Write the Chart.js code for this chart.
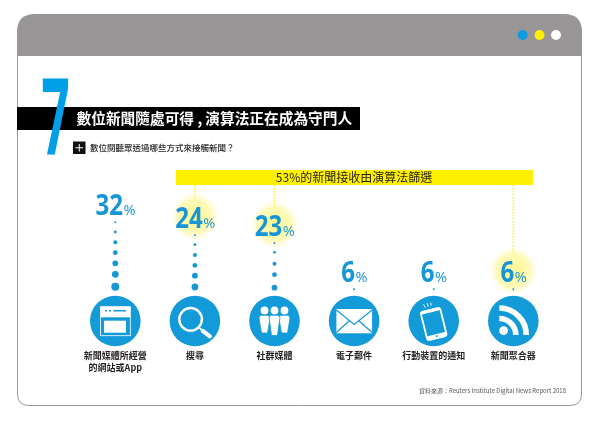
<!DOCTYPE html>
<html>
<head>
<meta charset="utf-8">
<style>
  html, body { margin: 0; padding: 0; background: #fff; }
  canvas { display: block; }
</style>
</head>
<body>
<canvas id="newsChart" width="600" height="423"></canvas>
<script src="https://cdn.jsdelivr.net/npm/chart.js@4"></script>
<script>
var categories = [
    ['新聞媒體所經營', '的網站或App'],
    '搜尋',
    '社群媒體',
    '電子郵件',
    '行動裝置的通知',
    '新聞聚合器'
];
var shareValues = [32, 24, 23, 6, 6, 6];
var algorithmFiltered = [false, true, true, false, false, true];

// height of each dot above the icon, top dot first
var dotsWebsite = [98.7, 89, 78.7, 68.3, 57.7, 46.7, 34.3];
var dotsSearch = [86, 76.3, 66, 55.7, 45.3, 34];
var dotsSocial = [78, 68.7, 57.3, 46.3, 33.3];
var dotsEmail = [31.7];
var dotsMobile = [31.7];
var dotsAggregator = [31.7];
var dotStacks = [dotsWebsite, dotsSearch, dotsSocial, dotsEmail, dotsMobile, dotsAggregator];

var titleLeft = '數位新聞隨處可得';
var titleComma = ',';
var titleRight = '演算法正在成為守門人';
var questionText = '數位閱聽眾透過哪些方式來接觸新聞？';
var bandText = '53%的新聞接收由演算法篩選';
var sourceText = '資料來源：Reuters Institute Digital News Report 2018';

var BLUE = '#129ad9';
var YELLOW = '#fff000';
var CJK = '"Noto Sans CJK TC", sans-serif';
var dotRadius = [1, 1.4, 2, 2.4, 2.9, 3.4, 4];

function roundedTop(ctx, x, y, w, h, r) {
    ctx.beginPath();
    ctx.moveTo(x, y + h);
    ctx.lineTo(x, y + r);
    ctx.quadraticCurveTo(x, y, x + r, y);
    ctx.lineTo(x + w - r, y);
    ctx.quadraticCurveTo(x + w, y, x + w, y + r);
    ctx.lineTo(x + w, y + h);
    ctx.closePath();
}

function valueAnchor(chart, i) {
    var x = chart.scales.x.getPixelForValue(i);
    var top = chart.scales.y.getPixelForValue(dotStacks[i][0]);
    return { x: x, base: top - 7.4, glow: top - 18.4 };
}

// window frame, headline, yellow band and glows sit behind the marks
var pageArt = {
    id: 'pageArt',
    beforeDatasetsDraw: function(chart) {
        var ctx = chart.ctx;
        ctx.save();

        // frame
        ctx.strokeStyle = '#9b9b9b';
        ctx.lineWidth = 1;
        ctx.beginPath();
        ctx.moveTo(17.5, 56);
        ctx.lineTo(17.5, 394);
        ctx.quadraticCurveTo(17.5, 405.5, 29, 405.5);
        ctx.lineTo(570, 405.5);
        ctx.quadraticCurveTo(581.5, 405.5, 581.5, 394);
        ctx.lineTo(581.5, 56);
        ctx.stroke();
        roundedTop(ctx, 17, 14, 565, 42, 18);
        ctx.fillStyle = '#989697';
        ctx.fill();
        [[522.7, '#0f9be0'], [539.5, YELLOW], [556, '#ffffff']].forEach(function(d) {
            ctx.beginPath();
            ctx.arc(d[0], 35, 5, 0, Math.PI * 2);
            ctx.fillStyle = d[1];
            ctx.fill();
        });

        // headline
        ctx.fillStyle = '#000';
        ctx.fillRect(17, 107, 343, 23);
        ctx.fillStyle = '#fff';
        ctx.font = 'bold 14.7px ' + CJK;
        ctx.textBaseline = 'middle';
        ctx.textAlign = 'left';
        ctx.fillText(titleLeft, 76.5, 118.5);
        ctx.fillText(titleComma, 197.5, 118.5);
        ctx.fillText(titleRight, 205.3, 118.5);

        // big 7
        ctx.save();
        ctx.translate(43.5, 154);
        ctx.scale(0.47, 1);
        ctx.fillStyle = '#009fe8';
        ctx.font = 'bold 105px "Open Sans"';
        ctx.textBaseline = 'alphabetic';
        ctx.fillText('7', -4, 0);
        ctx.restore();

        // question line
        ctx.fillStyle = '#111';
        ctx.fillRect(73, 141.5, 12.5, 12.5);
        ctx.strokeStyle = '#fff';
        ctx.lineWidth = 1;
        ctx.beginPath();
        ctx.moveTo(75.5, 147.75);
        ctx.lineTo(83, 147.75);
        ctx.moveTo(79.25, 144);
        ctx.lineTo(79.25, 151.5);
        ctx.stroke();
        ctx.fillStyle = '#231f20';
        ctx.font = '500 8.5px ' + CJK;
        ctx.fillText(questionText, 90, 148);

        // dotted links and glows for the algorithm filtered categories
        algorithmFiltered.forEach(function(on, i) {
            if (!on) return;
            var a = valueAnchor(chart, i);
            ctx.strokeStyle = '#ffee33';
            ctx.lineWidth = 1.6;
            ctx.setLineDash([1.5, 1.5]);
            ctx.beginPath();
            ctx.moveTo(a.x, 185);
            ctx.lineTo(a.x, a.glow - 16);
            ctx.stroke();
            ctx.setLineDash([]);
            var g = ctx.createRadialGradient(a.x, a.glow, 6, a.x, a.glow, 24);
            g.addColorStop(0, 'rgba(255, 245, 120, 0.75)');
            g.addColorStop(0.6, 'rgba(255, 245, 130, 0.55)');
            g.addColorStop(1, 'rgba(255, 250, 170, 0)');
            ctx.fillStyle = g;
            ctx.beginPath();
            ctx.arc(a.x, a.glow, 24, 0, Math.PI * 2);
            ctx.fill();
        });

        // yellow band
        ctx.fillStyle = YELLOW;
        ctx.fillRect(176, 170, 357, 15);
        ctx.fillStyle = '#231f20';
        ctx.font = '12px ' + CJK;
        ctx.textAlign = 'center';
        ctx.fillText(bandText, 354, 177.5);

        // source
        ctx.fillStyle = '#58595b';
        ctx.font = '6px "Noto Sans CJK TC", "Open Sans"';
        ctx.textAlign = 'right';
        ctx.fillText(sourceText, 566, 391);
        ctx.restore();
    },
    afterDatasetsDraw: function(chart) {
        var ctx = chart.ctx;
        ctx.save();
        ctx.textBaseline = 'alphabetic';
        ctx.textAlign = 'left';
        shareValues.forEach(function(v, i) {
            var a = valueAnchor(chart, i);
            var num = String(v);
            ctx.font = 'bold 28px "Open Sans"';
            var nw = ctx.measureText(num).width * 0.86;
            ctx.font = '14.5px "Open Sans"';
            var pw = ctx.measureText('%').width;
            var left = a.x - (nw + pw) / 2;
            ctx.fillStyle = '#1796d6';
            ctx.save();
            ctx.translate(left, a.base);
            ctx.scale(0.86, 1);
            ctx.font = 'bold 28px "Open Sans"';
            ctx.fillText(num, 0, 0);
            ctx.restore();
            ctx.font = '14.5px "Open Sans"';
            ctx.fillText('%', left + nw + 0.5, a.base);
            icons[i](ctx, a.x, chart.scales.y.getPixelForValue(0));
        });
        ctx.restore();
    }
};

// white pictograms, offsets are relative to the icon centre
var icons = [
    function(ctx, x, y) {
        ctx.save();
        ctx.translate(x, y);
        ctx.strokeStyle = '#fff';
        ctx.lineWidth = 0.8;
        ctx.strokeRect(-14.7, -14.3, 29.7, 29);
        ctx.fillStyle = '#fff';
        ctx.fillRect(-14.7, -14.3, 29.7, 10.6);
        ctx.fillRect(-11.3, -0.3, 22, 12);
        ctx.fillStyle = BLUE;
        ctx.fillRect(-10.3, -11, 2, 1.5);
        ctx.fillRect(-6.3, -11, 2, 1.5);
        ctx.fillRect(-2, -11, 12.7, 1.5);
        ctx.restore();
    },
    function(ctx, x, y) {
        ctx.save();
        ctx.translate(x, y);
        ctx.strokeStyle = '#fff';
        ctx.lineCap = 'round';
        ctx.lineWidth = 2.4;
        ctx.beginPath();
        ctx.arc(-4.3, -1.7, 11.3, 0, Math.PI * 2);
        ctx.stroke();
        ctx.lineWidth = 1.6;
        ctx.beginPath();
        ctx.moveTo(4, 6.3);
        ctx.lineTo(8, 10);
        ctx.stroke();
        ctx.lineWidth = 4.2;
        ctx.beginPath();
        ctx.moveTo(8, 10);
        ctx.lineTo(15, 15.3);
        ctx.stroke();
        ctx.restore();
    },
    function(ctx, x, y) {
        ctx.save();
        ctx.translate(x, y);
        ctx.fillStyle = '#fff';
        ctx.strokeStyle = BLUE;
        ctx.lineWidth = 0.8;
        [[-10, 12], [10, 12], [0, 14.5]].forEach(function(p) {
            var dx = p[0];
            ctx.beginPath();
            ctx.arc(dx, -10.5, 3.9, 0, Math.PI * 2);
            ctx.fill();
            ctx.beginPath();
            ctx.moveTo(dx - 5.5, -3);
            ctx.quadraticCurveTo(dx - 5.5, -5.7, dx - 2.7, -5.7);
            ctx.lineTo(dx + 2.7, -5.7);
            ctx.quadraticCurveTo(dx + 5.5, -5.7, dx + 5.5, -3);
            ctx.lineTo(dx + 4.4, 4);
            ctx.lineTo(dx + 3, p[1]);
            ctx.lineTo(dx - 3, p[1]);
            ctx.lineTo(dx - 4.4, 4);
            ctx.closePath();
            ctx.fill();
            ctx.stroke();
        });
        ctx.restore();
    },
    function(ctx, x, y) {
        ctx.save();
        ctx.translate(x, y);
        ctx.fillStyle = '#fff';
        ctx.fillRect(-17.7, -12, 35.7, 24.3);
        ctx.strokeStyle = BLUE;
        ctx.lineWidth = 1.2;
        ctx.beginPath();
        ctx.moveTo(-17.7, -11);
        ctx.lineTo(0, 3.5);
        ctx.lineTo(18, -11);
        ctx.moveTo(-17.7, 11.5);
        ctx.lineTo(-5, 0);
        ctx.moveTo(18, 11.5);
        ctx.lineTo(5, 0);
        ctx.stroke();
        ctx.restore();
    },
    function(ctx, x, y) {
        ctx.save();
        ctx.translate(x, y);
        ctx.strokeStyle = '#fff';
        ctx.lineCap = 'round';
        ctx.lineWidth = 0.9;
        [[-10, -16.5, -8.5, -13.5], [-6.5, -17.5, -5.5, -14.5], [-3, -18, -2.5, -15.5]].forEach(function(r) {
            ctx.beginPath();
            ctx.moveTo(r[0], r[1]);
            ctx.lineTo(r[2], r[3]);
            ctx.stroke();
        });
        ctx.translate(0, 3);
        ctx.rotate(-14 * Math.PI / 180);
        ctx.lineWidth = 1.8;
        ctx.beginPath();
        ctx.roundRect(-10, -14.5, 20, 29, 2.5);
        ctx.stroke();
        ctx.fillStyle = '#fff';
        ctx.fillRect(-10, 10.5, 20, 4);
        ctx.fillRect(-10, -14.5, 20, 2.5);
        ctx.fillStyle = BLUE;
        ctx.beginPath();
        ctx.arc(0, 12.5, 1, 0, Math.PI * 2);
        ctx.fill();
        ctx.restore();
    },
    function(ctx, x, y) {
        ctx.save();
        ctx.translate(x, y);
        ctx.fillStyle = '#fff';
        ctx.strokeStyle = '#fff';
        ctx.beginPath();
        ctx.arc(-9.7, 9.7, 4.4, 0, Math.PI * 2);
        ctx.fill();
        ctx.lineWidth = 5.6;
        ctx.beginPath();
        ctx.arc(-14, 14, 16.5, -Math.PI / 2, 0);
        ctx.stroke();
        ctx.beginPath();
        ctx.arc(-14, 14, 27, -Math.PI / 2, 0);
        ctx.stroke();
        ctx.restore();
    }
];

var datasets = dotStacks.map(function(stack, i) {
    return {
        data: stack.map(function(h) { return { x: categories[i], y: h }; }),
        backgroundColor: '#1796d6',
        pointRadius: function(c) { return dotRadius[c.dataIndex]; },
        pointBorderWidth: 0,
        showLine: false,
        clip: false
    };
});
// the round icon badges
datasets.push({
    data: categories.map(function(c) { return { x: c, y: 0 }; }),
    backgroundColor: BLUE,
    pointRadius: 25.3,
    pointBorderWidth: 0,
    showLine: false,
    clip: false
});

var myChart = new Chart(document.getElementById('newsChart').getContext('2d'), {
    type: 'line',
    data: { labels: categories, datasets: datasets },
    options: {
        responsive: false,
        animation: false,
        layout: { padding: { left: 75.5, right: 46.9, top: 221, bottom: 48 } },
        scales: {
            x: {
                type: 'category',
                offset: true,
                border: { display: false },
                grid: { display: false, drawTicks: false },
                afterFit: function(scale) { scale.height = 26; },
                ticks: {
                    autoSkip: false,
                    maxRotation: 0,
                    padding: 1,
                    color: '#231f20',
                    font: { family: CJK, size: 9, weight: 'bold', lineHeight: 1.28 }
                }
            },
            y: { display: false, min: -28, max: 100 }
        },
        plugins: { legend: { display: false }, tooltip: { enabled: false } }
    },
    plugins: [pageArt]
});
</script>
</body>
</html>
